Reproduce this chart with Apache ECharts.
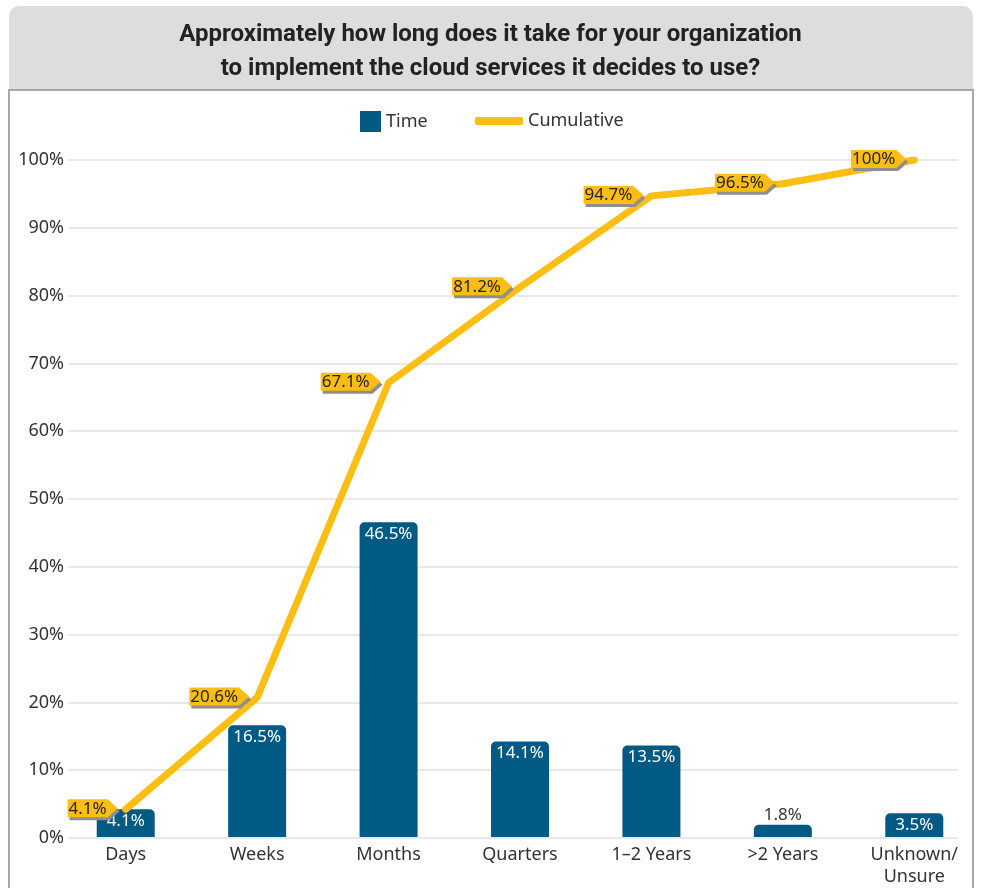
<!DOCTYPE html>
<html>
<head>
<meta charset="utf-8">
<script src="https://cdn.jsdelivr.net/npm/echarts@6/dist/echarts.min.js"></script>
<style>
  html, body { margin: 0; padding: 0; background: #ffffff; }
  #chart { width: 981px; height: 888px; }
</style>
</head>
<body>
<div id="chart"></div>
<script>
// Implementation time for adopted cloud services
const categories = ['Days', 'Weeks', 'Months', 'Quarters', '1–2 Years', '>2 Years', 'Unknown/\nUnsure'];
const timeShare = [4.1, 16.5, 46.5, 14.1, 13.5, 1.8, 3.5];
const cumulative = [4.1, 20.6, 67.1, 81.2, 94.7, 96.5, 100];
const yMin = 0, yMax = 100, yStep = 10;

const BLUE = '#015a84';
const YELLOW = '#fdbe13';
const TEXT = '#333333';
const FONT = '"Noto Sans", "Open Sans", sans-serif';

// text width helper for the value tags
const measureCtx = document.createElement('canvas').getContext('2d');
function textWidth(str, size) {
  measureCtx.font = size + 'px ' + FONT;
  return measureCtx.measureText(str).width;
}

// yellow arrow-shaped tag left of each cumulative point
function renderTag(params, api) {
  const v = api.value(1);
  const p = api.coord([api.value(0), v]);
  const label = String(v) + '%';
  const fs = 17;
  const w = textWidth(label, fs) + 2;
  const h = 18, arrow = 10;
  const tipX = p[0] - 8, cy = p[1] - 1;
  const x1 = tipX - arrow, x0 = x1 - w;
  const y0 = cy - h / 2, y1 = cy + h / 2;
  const pts = [[x0, y0], [x1, y0], [tipX, cy], [x1, y1], [x0, y1]];
  const shifted = pts.map(q => [q[0] + 2, q[1] + 3]);
  return {
    type: 'group',
    children: [
      { type: 'polygon', shape: { points: shifted }, style: { fill: '#8e8e8e' } },
      { type: 'polygon', shape: { points: pts }, style: { fill: YELLOW } },
      {
        type: 'text',
        style: {
          x: x0 + w / 2, y: cy + 0.5, text: label,
          fill: '#222222', font: fs + 'px ' + FONT,
          align: 'center', verticalAlign: 'middle'
        }
      }
    ]
  };
}

const chart = echarts.init(document.getElementById('chart'), null, { renderer: 'canvas' });

const option = {
  backgroundColor: '#ffffff',
  animation: false,
  graphic: [
    {
      type: 'rect', z: -10,
      shape: { x: 9, y: 6, width: 964, height: 85, r: [10, 10, 0, 0] },
      style: { fill: '#dcdddf' }
    },
    {
      type: 'rect', z: -9,
      shape: { x: 9, y: 90, width: 964, height: 820 },
      style: { fill: 'none', stroke: '#a8a8a8', lineWidth: 2 }
    }
  ],
  title: {
    text: 'Approximately how long does it take for your organization\nto implement the cloud services it decides to use?',
    left: 'center',
    top: 13,
    textStyle: {
      fontFamily: 'Roboto, sans-serif',
      fontWeight: 'bold',
      fontSize: 24,
      lineHeight: 34,
      color: '#222222'
    }
  },
  legend: [
    {
      data: ['Time'],
      left: 355, top: 106,
      itemWidth: 21, itemHeight: 21,
      icon: 'rect',
      textStyle: { fontFamily: FONT, fontSize: 18, color: TEXT }
    },
    {
      data: [{ name: 'Cumulative', icon: 'roundRect' }],
      left: 470, top: 107,
      itemWidth: 48, itemHeight: 8,
      textStyle: { fontFamily: FONT, fontSize: 18, color: TEXT }
    }
  ],
  grid: [
    { left: 68, right: 23, top: 160, bottom: 50 },
    { left: 60, right: 1, top: 160, bottom: 50 }
  ],
  xAxis: [
    { type: 'category', gridIndex: 0, data: categories, show: false },
    {
      type: 'category', gridIndex: 1, data: categories,
      axisLine: { show: false }, axisTick: { show: false },
      axisLabel: {
        fontFamily: FONT, fontSize: 18, color: TEXT,
        margin: 7, lineHeight: 22, interval: 0
      }
    }
  ],
  yAxis: [
    {
      type: 'value', gridIndex: 0,
      min: yMin, max: yMax, interval: yStep,
      axisLine: { show: false }, axisTick: { show: false },
      axisLabel: {
        formatter: '{value}%', fontFamily: FONT, fontSize: 18,
        color: TEXT, margin: 4
      },
      splitLine: { lineStyle: { color: '#e0e0e0', width: 1.5 } }
    },
    {
      type: 'value', gridIndex: 1,
      min: yMin, max: yMax, interval: yStep,
      show: false, splitLine: { show: false }
    }
  ],
  series: [
    {
      name: 'Time',
      type: 'bar',
      xAxisIndex: 1, yAxisIndex: 1,
      barWidth: 58,
      itemStyle: { color: BLUE, borderRadius: [5, 5, 0, 0] },
      label: {
        show: true, position: 'insideTop', distance: 3,
        formatter: p => p.value + '%',
        fontFamily: FONT, fontSize: 17, color: '#ffffff'
      },
      data: timeShare.map(v => v < 3 ?
        { value: v, label: { position: 'top', distance: 1, color: TEXT } } : v),
      z: 2
    },
    {
      name: 'Cumulative',
      type: 'line',
      xAxisIndex: 1, yAxisIndex: 1,
      data: cumulative,
      symbol: 'none',
      lineStyle: { color: YELLOW, width: 7, cap: 'round', join: 'round' },
      itemStyle: { color: YELLOW },
      z: 4
    },
    {
      name: 'tags',
      type: 'custom',
      xAxisIndex: 1, yAxisIndex: 1,
      clip: false,
      renderItem: renderTag,
      data: cumulative.map((v, i) => [i, v]),
      silent: true,
      z: 5
    }
  ]
};

chart.setOption(option);
</script>
</body>
</html>
